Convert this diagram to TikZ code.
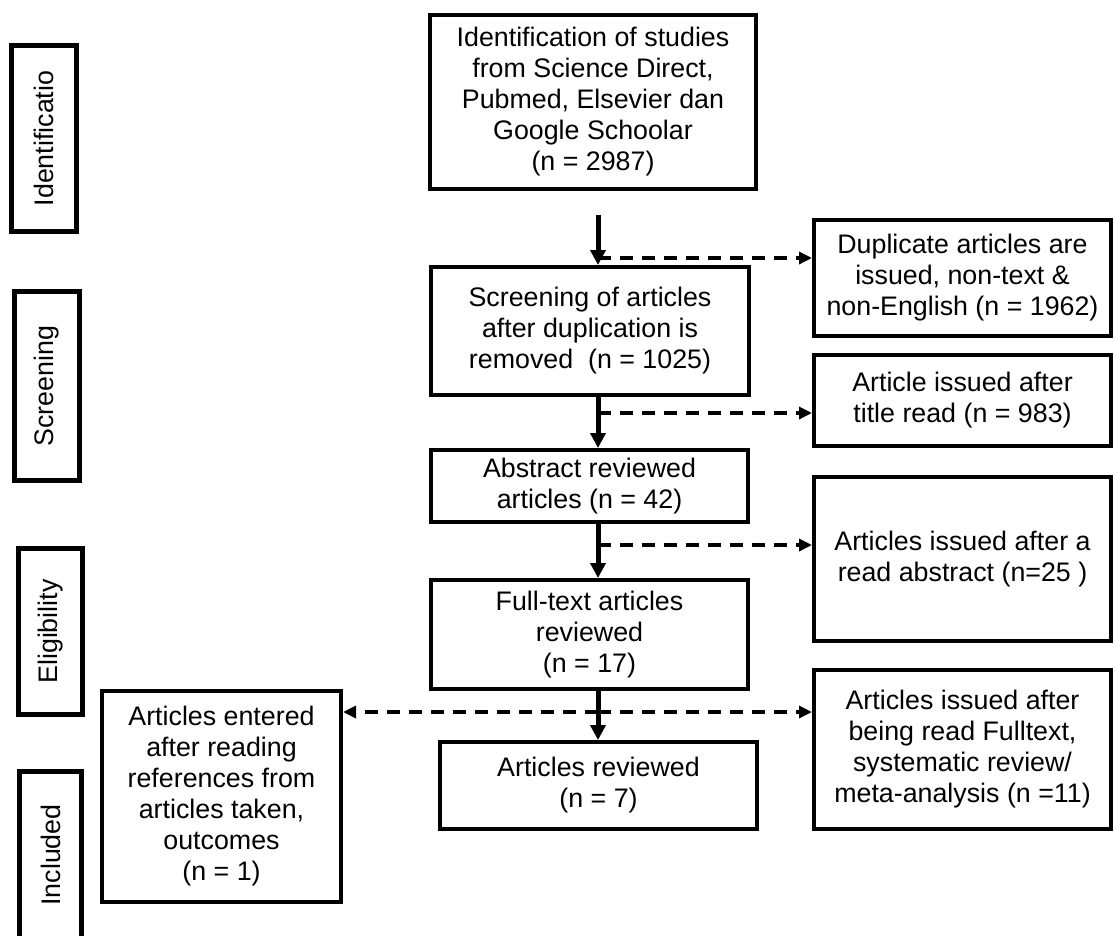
\documentclass[tikz,border=0pt]{standalone}
\usepackage{fontspec}
\setmainfont{Liberation Sans}
\usetikzlibrary{arrows.meta}
\begin{document}
\begin{tikzpicture}[x=1pt,y=-1pt,
  every node/.style={font=\fontsize{26.8}{31}\selectfont},
  mainbox/.style={draw, line width=4pt, inner sep=0pt, align=center},
  sidebox/.style={draw, line width=5pt, inner sep=0pt, rotate=90},
  flowarrow/.style={line width=5pt, -{Triangle[length=15pt,width=15pt]}},
  exclarrow/.style={line width=3.5pt, dash pattern=on 13pt off 9pt, -{Triangle[length=13pt,width=12pt]}}]
\clip (0,0) rectangle (1115,935);
\fill[white] (0,0) rectangle (1115,935);

% side stage labels
\node[sidebox, minimum width=186pt, minimum height=65pt] (sid) at (44,138.5) {Identificatio};
\node[sidebox, minimum width=189pt, minimum height=65pt] (sscr) at (47,386) {Screening};
\node[sidebox, minimum width=166pt, minimum height=64pt] (selig) at (50.5,631.5) {Eligibility};
\node[sidebox, minimum width=178pt, minimum height=62pt] (sinc) at (50.5,860.75) {\raisebox{0pt}{}};
\node[rotate=90] (tinc) at (50.5,855) {Included};

% main column
\node[mainbox, minimum width=326pt, minimum height=174pt] (ident) at (593,102)
  {Identification of studies\\from Science Direct,\\Pubmed, Elsevier dan\\Google Schoolar\\(n = 2987)};
\node[mainbox, minimum width=318pt, minimum height=128pt] (screen) at (590,331)
  {Screening of articles\\after duplication is\\removed\ \ (n = 1025)};
\node[mainbox, minimum width=317pt, minimum height=72pt] (abstr) at (589.5,486)
  {Abstract reviewed\\articles (n = 42)};
\node[mainbox, minimum width=317pt, minimum height=109pt] (full) at (589.5,634.5)
  {Full-text articles\\reviewed\\(n = 17)};
\node[mainbox, minimum width=317pt, minimum height=87pt] (rev) at (598.5,785.5)
  {Articles reviewed\\(n = 7)};

% right column
\node[mainbox, minimum width=297pt, minimum height=116pt] (dup) at (962.5,278)
  {Duplicate articles are\\issued, non-text \&\\non-English (n = 1962)};
\node[mainbox, minimum width=297pt, minimum height=91pt] (title) at (962.5,400.5)
  {Article issued after\\title read (n = 983)};
\node[mainbox, minimum width=297pt, minimum height=164pt] (absx) at (962.5,559)
  {Articles issued after a\\read abstract (n=25 )};
\node[mainbox, minimum width=297pt, minimum height=159pt] (fullx) at (962.5,749.5)
  {Articles issued after\\being read Fulltext,\\systematic review/\\meta-analysis (n =11)};

% left added box
\node[mainbox, minimum width=239pt, minimum height=211pt] (added) at (221.5,796.5)
  {Articles entered\\after reading\\references from\\articles taken,\\outcomes\\(n = 1)};

% connectors
\coordinate (col) at (598,0);
\coordinate (a1) at (598,215);
\coordinate (d1) at (598,258);
\coordinate (d2) at (598,413);
\coordinate (d3) at (598,545);
\coordinate (d4) at (598,712);

\draw[flowarrow] (a1) -- (screen.north -| col);
\draw[flowarrow] (screen.south -| col) -- (abstr.north -| col);
\draw[flowarrow] (abstr.south -| col) -- (full.north -| col);
\draw[flowarrow] (full.south -| col) -- (rev.north -| col);

\draw[exclarrow] (d1) -- (d1 -| dup.west);
\draw[exclarrow] (d2) -- (d2 -| title.west);
\draw[exclarrow] (d3) -- (d3 -| absx.west);
\draw[exclarrow] (d4) -- (d4 -| fullx.west);
\draw[exclarrow] (d4) -- (d4 -| added.east);
\end{tikzpicture}
\end{document}
